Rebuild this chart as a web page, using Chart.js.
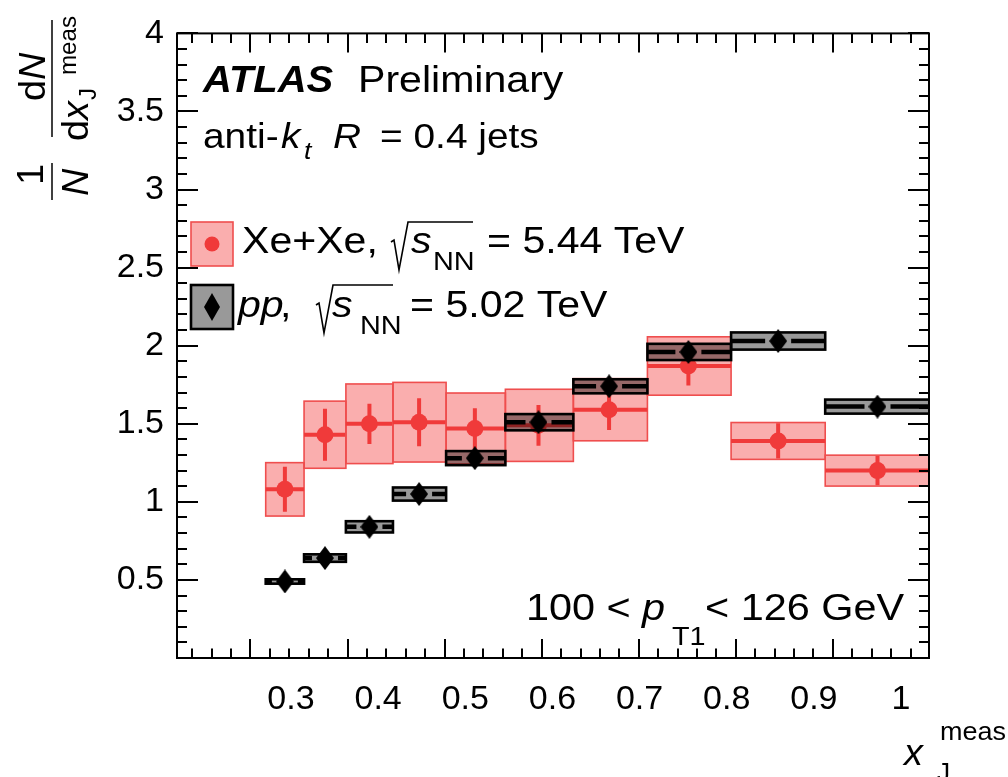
<!DOCTYPE html>
<html>
<head>
<meta charset="utf-8">
<script src="https://cdn.jsdelivr.net/npm/chart.js@4.4.1/dist/chart.umd.min.js"></script>
<style>
  html, body { margin: 0; padding: 0; background: #fff; }
  #wrap { width: 1008px; height: 777px; position: relative; }
</style>
</head>
<body>
<div id="wrap"><canvas id="c" width="1008" height="777"></canvas></div>
<script>
// x_J^meas binning
const binEdges   = [0.271, 0.315, 0.363, 0.417, 0.478, 0.546, 0.624, 0.709, 0.805, 0.913, 1.04];
const binCenters = [0.293, 0.339, 0.390, 0.447, 0.511, 0.584, 0.665, 0.756, 0.859, 0.973];

// Xe+Xe, sqrt(sNN) = 5.44 TeV
const xeVals = [1.08, 1.43, 1.50, 1.51, 1.47, 1.49, 1.59, 1.87, 1.39, 1.20];
const xeStat = [0.144, 0.166, 0.129, 0.154, 0.13, 0.13, 0.13, 0.125, 0.113, 0.094];
const xeSys  = [0.171, 0.215, 0.255, 0.255, 0.227, 0.231, 0.199, 0.187, 0.118, 0.099];

// pp, sqrt(sNN) = 5.02 TeV
const ppVals = [0.49, 0.64, 0.84, 1.05, 1.28, 1.51, 1.74, 1.96, 2.03, 1.61];
const ppSys  = [0.014, 0.024, 0.036, 0.042, 0.045, 0.052, 0.045, 0.052, 0.055, 0.045];

// axis labels
const xTickLabels = [0.3, 0.4, 0.5, 0.6, 0.7, 0.8, 0.9, 1];
const yTickLabels = [0.5, 1, 1.5, 2, 2.5, 3, 3.5, 4];

const X_MIN = 0.1692, X_MAX = 1.0321;
const Y_MIN = 0, Y_MAX = 4;
// frame tick-mark axis (major every 1, minor every 0.2)
const FRAME_MIN = 0.243, FRAME_MAX = 7.99;

const XE_LABEL = 'Xe+Xe, √sNN = 5.44 TeV';
const PP_LABEL = 'pp, √sNN = 5.02 TeV';

const FONT = '"Liberation Sans", Arial, Helvetica, sans-serif';
const RED = '#f03a3a';
const PINK_FILL = 'rgba(240,30,30,0.36)';
const PINK_EDGE = '#ef4e4e';
const GRAY_FILL = 'rgba(0,0,0,0.4)';
const SX = 1.11;

function makeDiamond(w, h) {
  const c = document.createElement('canvas');
  c.width = w; c.height = h;
  const g = c.getContext('2d');
  g.fillStyle = '#000';
  g.beginPath();
  g.moveTo(w / 2, 0); g.lineTo(w, h / 2); g.lineTo(w / 2, h); g.lineTo(0, h / 2);
  g.closePath(); g.fill();
  return c;
}
const diamond = makeDiamond(18, 24);

function seg(ctx, x0, y0, x1, y1) {
  ctx.beginPath(); ctx.moveTo(x0, y0); ctx.lineTo(x1, y1); ctx.stroke();
}

function txt(ctx, s, x, y, size, opt) {
  opt = opt || {};
  ctx.save();
  ctx.font = (opt.italic ? 'italic ' : '') + (opt.bold ? 'bold ' : '') + size + 'px ' + FONT;
  ctx.fillStyle = '#000';
  ctx.textAlign = 'left';
  ctx.textBaseline = 'alphabetic';
  ctx.translate(x, y);
  ctx.scale(opt.sx || SX, 1);
  ctx.fillText(s, 0, 0);
  ctx.restore();
}

// rotated text: baseline at screen x = bx, text starts at screen y = sy and runs upward
function rtxt(ctx, s, bx, sy, size, opt) {
  opt = opt || {};
  ctx.save();
  ctx.font = (opt.italic ? 'italic ' : '') + size + 'px ' + FONT;
  ctx.fillStyle = '#000';
  ctx.textAlign = 'left';
  ctx.textBaseline = 'alphabetic';
  ctx.translate(bx, sy);
  ctx.rotate(-Math.PI / 2);
  ctx.scale(opt.sx || 1.05, 1);
  ctx.fillText(s, 0, 0);
  ctx.restore();
}

function sqrtSign(ctx, x, top, bottom, endX) {
  ctx.save();
  ctx.strokeStyle = '#000';
  ctx.lineWidth = 1.6;
  ctx.lineJoin = 'miter';
  ctx.beginPath();
  ctx.moveTo(x - 2, bottom - 28);
  ctx.lineTo(x + 1, bottom - 30);
  ctx.lineTo(x + 6, bottom);
  ctx.lineTo(x + 15, top);
  ctx.lineTo(endX, top);
  ctx.stroke();
  ctx.restore();
}

// systematic boxes and bin-width / statistical bars, drawn under each series' markers
const binPlugin = {
  id: 'binBoxes',
  beforeDatasetDraw(chart, args) {
    const ctx = chart.ctx, xs = chart.scales.x, ys = chart.scales.y, a = chart.chartArea;
    const label = chart.data.datasets[args.index].label;
    ctx.save();
    ctx.beginPath();
    ctx.rect(a.left, a.top, a.right - a.left, a.bottom - a.top);
    ctx.clip();
    for (let i = 0; i < binCenters.length; i++) {
      const x0 = xs.getPixelForValue(binEdges[i]);
      const x1 = xs.getPixelForValue(binEdges[i + 1]);
      const xc = xs.getPixelForValue(binCenters[i]);
      if (label === XE_LABEL) {
        const v = xeVals[i];
        const yc = ys.getPixelForValue(v);
        const yt = ys.getPixelForValue(v + xeSys[i]);
        const yb = ys.getPixelForValue(v - xeSys[i]);
        ctx.fillStyle = PINK_FILL;
        ctx.fillRect(x0, yt, x1 - x0, yb - yt);
        ctx.strokeStyle = PINK_EDGE;
        ctx.lineWidth = 1.6;
        ctx.strokeRect(x0, yt, x1 - x0, yb - yt);
        ctx.strokeStyle = RED;
        ctx.lineWidth = 4;
        seg(ctx, x0, yc, x1, yc);
        seg(ctx, xc, ys.getPixelForValue(v + xeStat[i]), xc, ys.getPixelForValue(v - xeStat[i]));
      } else {
        const v = ppVals[i];
        const yc = ys.getPixelForValue(v);
        const yt = ys.getPixelForValue(v + ppSys[i]);
        const yb = ys.getPixelForValue(v - ppSys[i]);
        ctx.fillStyle = GRAY_FILL;
        ctx.fillRect(x0, yt, x1 - x0, yb - yt);
        ctx.strokeStyle = '#000';
        ctx.lineWidth = 2.6;
        ctx.strokeRect(x0, yt, x1 - x0, yb - yt);
        ctx.lineWidth = 4.5;
        seg(ctx, x0, yc, xc - 13, yc);
        seg(ctx, xc + 13, yc, x1, yc);
      }
    }
    ctx.restore();
  }
};

// frame with inward tick marks on all four sides
const framePlugin = {
  id: 'frameTicks',
  afterDatasetsDraw(chart) {
    const ctx = chart.ctx, a = chart.chartArea;
    const xf = chart.scales.xFrame, ys = chart.scales.y;
    ctx.save();
    ctx.strokeStyle = '#000';
    ctx.lineWidth = 2;
    for (let i = Math.ceil(FRAME_MIN * 5); i <= Math.floor(FRAME_MAX * 5); i++) {
      const px = Math.round(xf.getPixelForValue(i / 5));
      const L = (i % 5 === 0) ? 19 : 9.5;
      seg(ctx, px, a.bottom, px, a.bottom - L);
      seg(ctx, px, a.top, px, a.top + L);
    }
    for (let i = 0; i <= 40; i++) {
      const py = Math.round(ys.getPixelForValue(i / 10));
      const L = (i % 5 === 0) ? 21 : 10;
      seg(ctx, a.left, py, a.left + L, py);
      seg(ctx, a.right, py, a.right - L, py);
    }
    ctx.strokeRect(a.left, a.top, a.right - a.left, a.bottom - a.top);
    ctx.restore();
  }
};

// legend, labels and axis titles
const textPlugin = {
  id: 'annotations',
  afterDraw(chart) {
    const ctx = chart.ctx;

    txt(ctx, 'ATLAS', 203, 92, 37, { bold: true, italic: true, sx: 1.08 });
    txt(ctx, 'Preliminary', 358, 92, 37);

    txt(ctx, 'anti-', 203, 148, 35);
    txt(ctx, 'k', 281, 148, 35, { italic: true });
    txt(ctx, 't', 304, 159, 24, { italic: true });
    txt(ctx, 'R', 333, 148, 35, { italic: true });
    txt(ctx, '= 0.4 jets', 380, 148, 35);

    // legend: Xe+Xe
    ctx.save();
    ctx.fillStyle = PINK_FILL;
    ctx.fillRect(191, 222, 42, 44);
    ctx.strokeStyle = PINK_EDGE; ctx.lineWidth = 1.6;
    ctx.strokeRect(191, 222, 42, 44);
    ctx.fillStyle = RED;
    ctx.beginPath(); ctx.arc(212, 244, 7.5, 0, Math.PI * 2); ctx.fill();
    // legend: pp
    ctx.fillStyle = GRAY_FILL;
    ctx.fillRect(191, 285, 42, 44);
    ctx.strokeStyle = '#000'; ctx.lineWidth = 2.6;
    ctx.strokeRect(191, 285, 42, 44);
    ctx.drawImage(makeDiamond(16, 28), 204, 293);
    ctx.restore();

    txt(ctx, 'Xe+Xe,', 242, 253, 37);
    sqrtSign(ctx, 393, 222, 270, 473);
    txt(ctx, 's', 411, 253, 37, { italic: true });
    txt(ctx, 'NN', 433, 270, 26);
    txt(ctx, '= 5.44 TeV', 487, 253, 37);

    txt(ctx, 'pp', 238, 317, 37, { italic: true });
    txt(ctx, ',', 280, 317, 37);
    sqrtSign(ctx, 318, 285, 333, 393);
    txt(ctx, 's', 332, 317, 37, { italic: true });
    txt(ctx, 'NN', 360, 334, 26);
    txt(ctx, '= 5.02 TeV', 410, 317, 37);

    // jet pT selection
    txt(ctx, '100 <', 526, 620, 36, { sx: 1.15 });
    txt(ctx, 'p', 642, 620, 36, { italic: true, sx: 1.15 });
    txt(ctx, 'T1', 672, 645, 25, { sx: 1.15 });
    txt(ctx, '< 126 GeV', 705, 620, 36, { sx: 1.15 });

    // x-axis title
    txt(ctx, 'x', 904, 765, 36, { italic: true, sx: 1.05 });
    txt(ctx, 'meas', 940, 740, 25, { sx: 1.08 });
    txt(ctx, 'J', 937, 781, 25, { sx: 1.05 });

    // y-axis title: (1/N) dN/dx_J^meas
    rtxt(ctx, '1', 43, 185, 36);
    rtxt(ctx, 'N', 88, 196, 36, { italic: true });
    rtxt(ctx, 'd', 45, 101, 36);
    rtxt(ctx, 'N', 45, 80, 36, { italic: true });
    rtxt(ctx, 'd', 88, 141, 36);
    rtxt(ctx, 'x', 88, 120, 36, { italic: true });
    rtxt(ctx, 'J', 96, 100, 23);
    rtxt(ctx, 'meas', 76, 75, 23);
    ctx.save();
    ctx.strokeStyle = '#000'; ctx.lineWidth = 1.5;
    seg(ctx, 52, 200, 52, 163);
    seg(ctx, 52, 137, 52, 20);
    ctx.restore();
  }
};

const tickFont = { family: FONT, size: 34 };

new Chart(document.getElementById('c'), {
  type: 'scatter',
  data: {
    datasets: [
      {
        label: PP_LABEL,
        data: binCenters.map((x, i) => ({ x: x, y: ppVals[i] })),
        pointStyle: diamond,
        pointRadius: 12,
        pointHoverRadius: 12,
        showLine: false
      },
      {
        label: XE_LABEL,
        data: binCenters.map((x, i) => ({ x: x, y: xeVals[i] })),
        pointStyle: 'circle',
        pointRadius: 8.5,
        pointHoverRadius: 8.5,
        pointBackgroundColor: RED,
        pointBorderWidth: 0,
        showLine: false
      }
    ]
  },
  options: {
    responsive: false,
    animation: false,
    devicePixelRatio: 1,
    events: [],
    layout: { padding: { top: 20, right: 79, bottom: 0, left: 0 } },
    plugins: { legend: { display: false }, tooltip: { enabled: false } },
    scales: {
      x: {
        type: 'linear',
        position: 'bottom',
        min: X_MIN,
        max: X_MAX,
        afterBuildTicks: s => { s.ticks = xTickLabels.map(v => ({ value: v })); },
        ticks: {
          font: tickFont,
          color: '#000',
          padding: 21,
          autoSkip: false,
          maxRotation: 0,
          callback: v => String(v)
        },
        grid: { display: false, drawTicks: false },
        border: { display: false },
        afterFit: s => { s.height = 119; }
      },
      xFrame: {
        type: 'linear',
        position: 'bottom',
        display: false,
        min: FRAME_MIN,
        max: FRAME_MAX
      },
      y: {
        type: 'linear',
        position: 'left',
        min: Y_MIN,
        max: Y_MAX,
        afterBuildTicks: s => { s.ticks = yTickLabels.map(v => ({ value: v })); },
        ticks: {
          font: tickFont,
          color: '#000',
          padding: 13,
          autoSkip: false,
          callback: v => String(v)
        },
        grid: { display: false, drawTicks: false },
        border: { display: false },
        afterFit: s => { s.width = 177; }
      }
    }
  },
  plugins: [binPlugin, framePlugin, textPlugin]
});
</script>
</body>
</html>
